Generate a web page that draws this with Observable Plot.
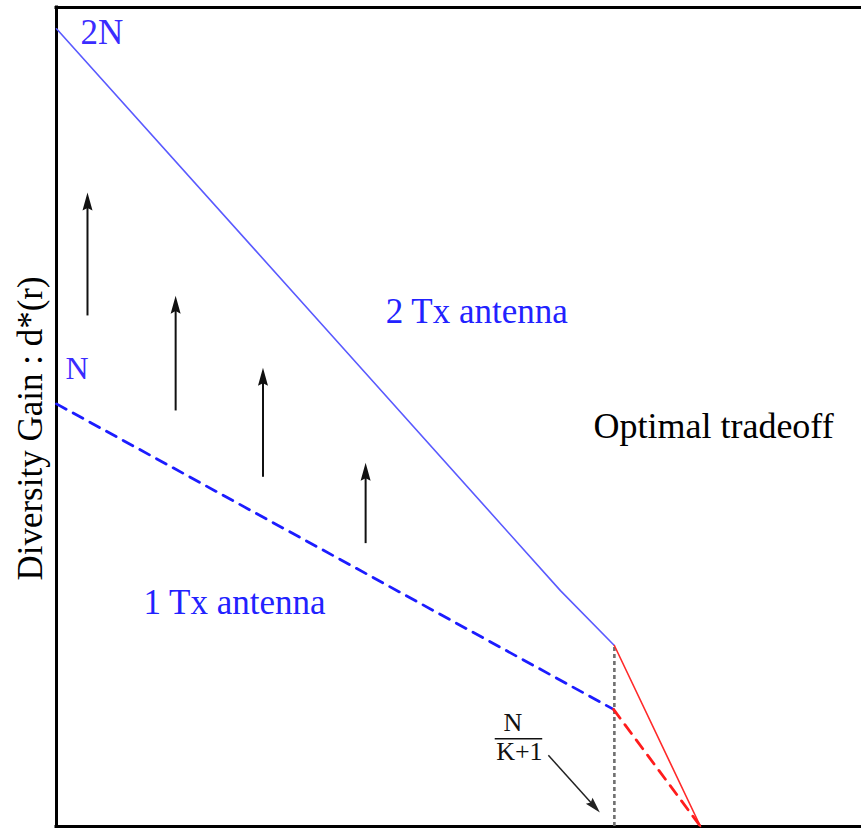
<!DOCTYPE html>
<html>
<head>
<meta charset="utf-8">
<script src="https://cdn.jsdelivr.net/npm/d3@7"></script>
<script src="https://cdn.jsdelivr.net/npm/@observablehq/plot@0.6"></script>
<style>
  html, body { margin: 0; padding: 0; background: #fff; font-family: "Liberation Serif", serif; }
  #chart svg { display: block; }
</style>
</head>
<body>
<div id="chart"></div>
<script>
// ---- data (schematic units: r from 0 to 100, d from 0 to 100) ----
// 2 Tx antenna tradeoff curve (blue solid)
const twoTxR = [0, 35.9, 62.6, 69.3];
const twoTxD = [97.4, 58.1, 28.8, 22.1];
// 1 Tx antenna tradeoff curve (blue dashed)
const oneTxR = [0, 69.2];
const oneTxD = [51.6, 14.3];
// optimal tradeoff continuation (red)
const optTwoR = [69.3, 80.0];
const optTwoD = [22.1, 0];
const optOneR = [69.2, 80.0];
const optOneD = [14.3, 0];
// crossover point N/(K+1) (grey dotted)
const crossR = [69.3];
const crossTop = [22.1];
// upward gain arrows
const gainX = [3.85, 14.8, 25.65, 38.4];
const gainFrom = [62.4, 50.8, 42.7, 34.6];
const gainTo = [77.4, 64.8, 56.0, 44.4];
// pointer arrow from N/(K+1) label
const pointerFrom = [61.1, 8.7];
const pointerTo = [67.5, 1.7];
// labels
const labelText = ["2N", "N", "2 Tx antenna", "1 Tx antenna", "Optimal tradeoff"];
const labelX = [2.98, 1.12, 40.9, 10.8, 66.7];
const labelY = [95.6, 54.6, 61.5, 26.0, 47.4];
const labelSize = [35, 32, 35, 35, 36];
const labelColor = ["#3a2cff", "#3a2cff", "#2222ff", "#2222ff", "#000000"];
const fracNum = "N", fracDen = "K+1";
const fracX = [56.7, 57.5];
const fracY = [11.7, 8.06];
const fracBarX = [54.5, 60.4];
const fracBarY = [10.7];
const yLabel = "Diversity Gain : d*(r)";
const yLabelPos = [-3.23, 48.6];

const serif = "Liberation Serif, serif";

const base = {
  width: 861, height: 829,
  marginLeft: 56, marginRight: 0, marginTop: 7, marginBottom: 3,
  x: {domain: [0, 100], axis: null},
  y: {domain: [0, 100], axis: null},
  style: {background: "white", overflow: "visible"}
};

// probe scales to orient arrowheads in screen space
const probe = Plot.plot({...base, marks: [Plot.frame()]});
const sx = probe.scale("x"), sy = probe.scale("y");

function head(angle, L = 18, W = 5) {
  return {
    draw(ctx) {
      const c = Math.cos(angle), s = Math.sin(angle);
      const pt = (u, v) => [u * c - v * s, u * s + v * c];
      const p0 = pt(0, 0), p1 = pt(-L, W), p2 = pt(-L * 0.85, 0), p3 = pt(-L, -W);
      ctx.moveTo(p0[0], p0[1]);
      ctx.lineTo(p1[0], p1[1]);
      ctx.lineTo(p2[0], p2[1]);
      ctx.lineTo(p3[0], p3[1]);
      ctx.closePath();
    }
  };
}

function arrowMarks(x1, y1, x2, y2, opts) {
  const px1 = sx.apply(x1), py1 = sy.apply(y1), px2 = sx.apply(x2), py2 = sy.apply(y2);
  const ang = Math.atan2(py2 - py1, px2 - px1);
  const L = opts.L || 18, W = opts.W || 5;
  const ex = sx.invert(px2 - Math.cos(ang) * L * 0.8);
  const ey = sy.invert(py2 - Math.sin(ang) * L * 0.8);
  return [
    Plot.link([0], {x1: () => x1, y1: () => y1, x2: () => ex, y2: () => ey,
      stroke: opts.stroke, strokeWidth: opts.strokeWidth}),
    Plot.dot([0], {x: () => x2, y: () => y2, symbol: head(ang, L, W), r: 5,
      fill: opts.stroke, stroke: "none"})
  ];
}

const pts = (xs, ys) => xs.map((x, i) => ({x, y: ys[i]}));

const marks = [
  // frame (left, top, bottom)
  Plot.ruleX([0], {y1: 0, y2: 100, stroke: "black", strokeWidth: 3, strokeLinecap: "square"}),
  Plot.ruleY([0, 100], {x1: 0, x2: 100, stroke: "black", strokeWidth: 3, strokeLinecap: "square"}),
  // crossover dotted
  Plot.ruleX(crossR, {y1: 0, y2: crossTop[0], stroke: "#707070", strokeWidth: 2.6, strokeDasharray: "4,3"}),
  // curves
  Plot.line(pts(twoTxR, twoTxD), {x: "x", y: "y", stroke: "#5a5aff", strokeWidth: 1.6}),
  Plot.line(pts(oneTxR, oneTxD), {x: "x", y: "y", stroke: "#1c1cff", strokeWidth: 2.8, strokeDasharray: "11,8"}),
  Plot.line(pts(optTwoR, optTwoD), {x: "x", y: "y", stroke: "#ff2a2a", strokeWidth: 1.6}),
  Plot.line(pts(optOneR, optOneD), {x: "x", y: "y", stroke: "#ff1c1c", strokeWidth: 2.8, strokeDasharray: "11,8"}),
  // gain arrows
  ...gainX.flatMap((x, i) => arrowMarks(x, gainFrom[i], x, gainTo[i], {stroke: "#111", strokeWidth: 2})),
  // pointer arrow
  ...arrowMarks(pointerFrom[0], pointerFrom[1], pointerTo[0], pointerTo[1], {stroke: "#222", strokeWidth: 1.5, L: 16, W: 4.5}),
  // labels
  Plot.text(labelText.map((t, i) => ({t, x: labelX[i], y: labelY[i], s: labelSize[i], c: labelColor[i]})), {
    x: "x", y: "y", text: "t", fill: "c", fontSize: "s", fontFamily: serif, textAnchor: "start", lineAnchor: "bottom"
  }),
  // fraction N/(K+1)
  Plot.text([{t: fracNum, x: fracX[0], y: fracY[0]}, {t: fracDen, x: fracX[1], y: fracY[1]}], {
    x: "x", y: "y", text: "t", fill: "#111", fontSize: 26, fontFamily: serif, textAnchor: "middle", lineAnchor: "bottom"
  }),
  Plot.ruleY(fracBarY, {x1: fracBarX[0], x2: fracBarX[1], stroke: "#111", strokeWidth: 1.5}),
  // y label
  Plot.text([yLabel], {x: yLabelPos[0], y: yLabelPos[1], text: d => d, rotate: -90,
    fontSize: 35, fontFamily: serif, fill: "black", textAnchor: "middle", lineAnchor: "middle"})
];

const chart = Plot.plot({...base, marks});
document.getElementById("chart").appendChild(chart);
</script>
</body>
</html>
